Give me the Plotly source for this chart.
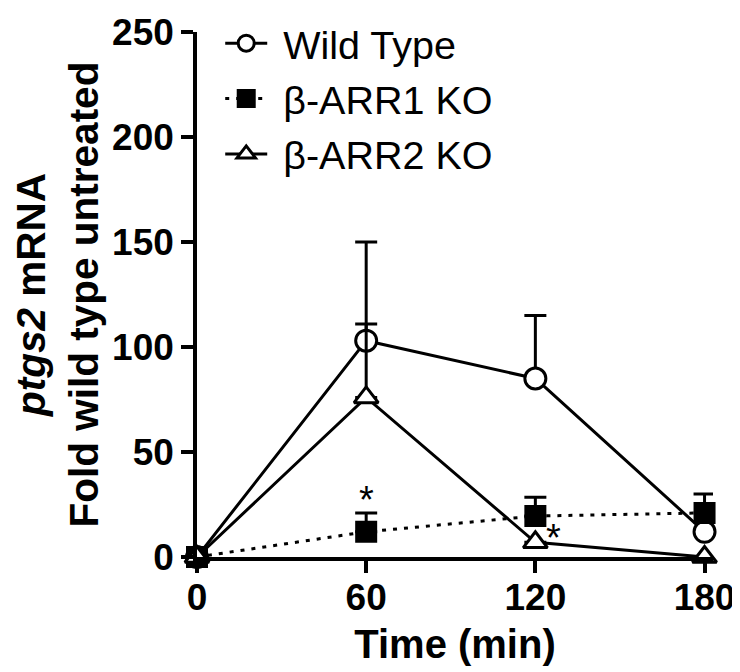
import plotly.graph_objects as go

time_min = [0, 60, 120, 180]
wt_mean = [0, 103, 85, 12]
wt_err = [0, 47, 30, 0]
arr1_mean = [0, 12, 19.5, 21]
arr1_err = [0, 9, 9, 9]
arr2_mean = [0, 76, 7, 0]
arr2_err = [0, 35, 0, 0]
series_names = ["Wild Type", "β-ARR1 KO", "β-ARR2 KO"]
star_x = [60, 126.5]
star_y = [31, 13]
x_ticks = [0, 60, 120, 180]
y_ticks = [0, 50, 100, 150, 200, 250]

FONT = "Liberation Sans, Arial, sans-serif"
PAD = "\u00a0"

fig = go.Figure()

def add(name, y, err, symbol, size, dash, filled):
    fig.add_trace(go.Scatter(
        x=time_min, y=y, name=PAD + name, mode="lines+markers", legendgroup=name,
        line=dict(color="black", width=3, dash=dash),
        marker=dict(symbol=symbol, size=size,
                    color="black" if filled else "white",
                    line=dict(color="black", width=3)),
        error_y=dict(type="data", array=err, arrayminus=[0]*len(err),
                     symmetric=False, color="black", thickness=3, width=11),
        cliponaxis=False,
    ))

add(series_names[0], wt_mean, wt_err, "circle", 21, "solid", False)
add(series_names[1], arr1_mean, arr1_err, "square", 19, "4px,7px", True)
add(series_names[2], arr2_mean, arr2_err, "triangle-up", 21, "solid", False)

for sx, sy in zip(star_x, star_y):
    fig.add_annotation(x=sx, y=sy, text="*", showarrow=False,
                       font=dict(size=38, color="black", family=FONT),
                       yanchor="middle", yshift=-8)

fig.update_layout(
    width=740, height=672,
    margin=dict(l=189, r=35, t=24, b=123, autoexpand=False),
    paper_bgcolor="white", plot_bgcolor="white",
    font=dict(family=FONT, color="black"),
    showlegend=True,
    legend=dict(x=0.045, y=1.04, xanchor="left", yanchor="top",
                font=dict(size=39.5, family=FONT, color="black"),
                bgcolor="rgba(0,0,0,0)", itemwidth=42, tracegroupgap=1),
    xaxis=dict(range=[0, 183], tickvals=x_ticks, showgrid=False, zeroline=False,
               automargin=False,
               showline=True, linecolor="black", linewidth=3.5,
               ticks="outside", ticklen=12, tickwidth=3.5, tickcolor="black",
               ticklabelstandoff=-7,
               tickfont=dict(size=37, family=FONT, weight="bold"),
               title=dict(text="Time (min)", font=dict(size=40, family=FONT, weight="bold"),
                          standoff=14)),
    yaxis=dict(range=[0, 250], tickvals=y_ticks, showgrid=False, zeroline=False,
               automargin=False,
               showline=True, linecolor="black", linewidth=3.5,
               ticks="outside", ticklen=12, tickwidth=3.5, tickcolor="black",
               tickfont=dict(size=37, family=FONT, weight="bold"),
               title=dict(text="<i>ptgs2</i> mRNA<br>Fold wild type untreated",
                          font=dict(size=40.5, family=FONT, weight="bold"),
                          standoff=6)),
)

fig.write_html("out.html")
